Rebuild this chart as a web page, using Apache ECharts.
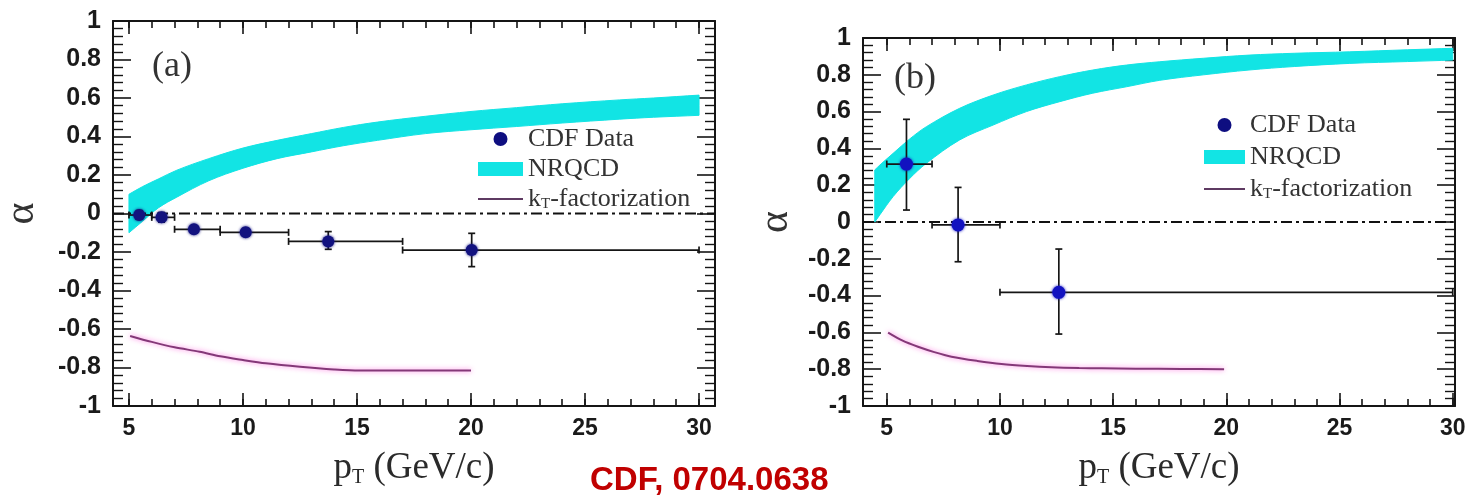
<!DOCTYPE html>
<html>
<head>
<meta charset="utf-8">
<script src="https://cdn.jsdelivr.net/npm/echarts@6/dist/echarts.min.js"></script>
<style>
  html, body { margin: 0; padding: 0; background: #fff; }
  #chart { width: 1470px; height: 499px; }
</style>
</head>
<body>
<div id="chart"></div>
<script>
// ---- panel (a) ----
const ptA = [5.45, 6.43, 7.85, 10.12, 13.74, 20.03];
const alphaA = [-0.008, -0.02, -0.082, -0.098, -0.145, -0.19];
const ptLoA = [5, 6, 7, 9, 12, 17];
const ptHiA = [6, 7, 9, 12, 17, 30];
const alphaLoA = [-0.03, -0.045, -0.1, -0.118, -0.186, -0.276];
const alphaHiA = [0.015, 0.005, -0.064, -0.078, -0.094, -0.103];

const bandPtA = [5.0, 5.6, 6.3, 7.1, 8.5, 10.0, 11.5, 13.0, 14.4, 15.9, 18.0, 20.0, 22.0, 24.0, 26.5, 28.0, 30.0];
const nrqcdLoA = [-0.10, -0.04, 0.03, 0.085, 0.17, 0.235, 0.285, 0.32, 0.352, 0.38, 0.415, 0.435, 0.452, 0.47, 0.49, 0.50, 0.51];
const nrqcdHiA = [0.10, 0.14, 0.18, 0.225, 0.285, 0.34, 0.38, 0.415, 0.447, 0.475, 0.505, 0.53, 0.55, 0.57, 0.59, 0.60, 0.615];

const ktPtA = [5.05, 6, 7, 8.1, 9, 10, 11, 12.5, 14, 15.1, 17, 20];
const ktA = [-0.636, -0.667, -0.695, -0.718, -0.742, -0.761, -0.778, -0.796, -0.81, -0.816, -0.816, -0.815];

// ---- panel (b) ----
const ptB = [5.87, 8.15, 12.6];
const alphaB = [0.315, -0.016, -0.382];
const ptLoB = [5, 7, 10];
const ptHiB = [7, 10, 30];
const alphaLoB = [0.065, -0.216, -0.609];
const alphaHiB = [0.558, 0.188, -0.147];

const bandPtB = [4.47, 4.7, 5.28, 6.0, 6.75, 8.22, 9.7, 11.17, 12.64, 14.1, 15.59, 17.06, 19, 21, 23, 25.45, 28, 30];
const nrqcdLoB = [0.0, 0.04, 0.138, 0.235, 0.319, 0.446, 0.527, 0.60, 0.654, 0.70, 0.735, 0.77, 0.80, 0.826, 0.845, 0.862, 0.872, 0.88];
const nrqcdHiB = [0.283, 0.31, 0.373, 0.45, 0.518, 0.618, 0.69, 0.745, 0.79, 0.826, 0.853, 0.871, 0.89, 0.907, 0.917, 0.925, 0.936, 0.944];

const ktPtB = [5.06, 5.7, 6.38, 7.1, 7.86, 9, 10.07, 11.2, 12.27, 13.5, 14.5, 16, 18, 19.9];
const ktB = [-0.601, -0.645, -0.678, -0.707, -0.732, -0.755, -0.772, -0.783, -0.79, -0.794, -0.795, -0.797, -0.799, -0.80];

// axis ticks
const majorX = [5, 10, 15, 20, 25, 30];
const minorX = [5, 6, 7, 8, 9, 10, 11, 12, 13, 14, 15, 16, 17, 18, 19, 20, 21, 22, 23, 24, 25, 26, 27, 28, 29, 30];

const INK = '#151515';
const CYAN = '#12e4e4';

function xAxes(gridIndex, min, max) {
  const common = {
    type: 'value', gridIndex, min, max,
    splitLine: { show: false },
  };
  const line = { show: true, onZero: false, lineStyle: { color: INK, width: 2 } };
  const tickStyle = { color: INK, width: 1.6 };
  return [
    Object.assign({}, common, {
      position: 'bottom',
      axisLine: line,
      axisTick: { inside: true, length: 13, customValues: majorX, lineStyle: tickStyle },
      axisLabel: {
        customValues: majorX, margin: 11, color: '#1a1a1a',
        fontFamily: 'Liberation Sans', fontWeight: 'bold', fontSize: 23,
      },
      name: '{p|p}{s|T}{p| (GeV/c)}',
      nameLocation: 'middle',
      nameGap: 42,
      nameTextStyle: {
        rich: {
          p: { fontFamily: 'Liberation Serif', fontSize: 37, lineHeight: 40, color: '#2a2a2a' },
          s: { fontFamily: 'Liberation Serif', fontSize: 20, lineHeight: 20, verticalAlign: 'bottom', color: '#2a2a2a' },
        },
      },
    }),
    Object.assign({}, common, {
      position: 'bottom',
      axisLine: { show: false, onZero: false },
      axisTick: { inside: true, length: 7, customValues: minorX, lineStyle: tickStyle },
      axisLabel: { show: false },
    }),
    Object.assign({}, common, {
      position: 'top',
      axisLine: line,
      axisTick: { inside: true, length: 13, customValues: majorX, lineStyle: tickStyle },
      axisLabel: { show: false },
    }),
    Object.assign({}, common, {
      position: 'top',
      axisLine: { show: false, onZero: false },
      axisTick: { inside: true, length: 7, customValues: minorX, lineStyle: tickStyle },
      axisLabel: { show: false },
    }),
  ];
}

function yAxes(gridIndex, nameGap) {
  const common = {
    type: 'value', gridIndex, min: -1, max: 1, interval: 0.2,
    axisLine: { show: true, onZero: false, lineStyle: { color: INK, width: 2 } },
    axisTick: { inside: true, length: 18, lineStyle: { color: INK, width: 1.6 } },
    minorTick: { show: true, splitNumber: 5, length: 10, lineStyle: { color: INK, width: 1.4 } },
    splitLine: { show: false },
    minorSplitLine: { show: false },
  };
  return [
    Object.assign({}, common, {
      position: 'left',
      axisLabel: {
        margin: 12, color: '#1a1a1a',
        fontFamily: 'Liberation Sans', fontWeight: 'bold', fontSize: 25,
      },
      name: 'α',
      nameLocation: 'middle',
      nameRotate: 90,
      nameGap,
      nameTextStyle: { fontFamily: 'Liberation Serif', fontSize: 42, color: '#333' },
    }),
    Object.assign({}, common, {
      position: 'right',
      axisLabel: { show: false },
    }),
  ];
}

// filled band between lo and hi; corner points doubled so smoothing keeps the ends straight
function bandRender(xs, lo, hi) {
  return function (params, api) {
    if (params.dataIndex !== 0) return null;
    const n = xs.length;
    const pts = [];
    pts.push(api.coord([xs[0], hi[0]]));
    xs.forEach((x, i) => pts.push(api.coord([x, hi[i]])));
    pts.push(api.coord([xs[n - 1], hi[n - 1]]));
    pts.push(api.coord([xs[n - 1], lo[n - 1]]));
    for (let i = n - 1; i >= 0; i--) pts.push(api.coord([xs[i], lo[i]]));
    pts.push(api.coord([xs[0], lo[0]]));
    return {
      type: 'polygon',
      shape: { points: pts, smooth: 0.35 },
      style: { fill: CYAN, stroke: CYAN, lineWidth: 1 },
    };
  };
}

// cross-shaped error bars with end caps
function errorRender(params, api) {
  const x = api.value(0), y = api.value(1);
  const c = api.coord([x, y]);
  const l = api.coord([api.value(2), y]);
  const r = api.coord([api.value(3), y]);
  const b = api.coord([x, api.value(4)]);
  const t = api.coord([x, api.value(5)]);
  const cap = 3.5;
  const style = { stroke: INK, lineWidth: 1.7 };
  const seg = (x1, y1, x2, y2) => ({ type: 'line', shape: { x1, y1, x2, y2 }, style });
  return {
    type: 'group',
    children: [
      seg(l[0], c[1], r[0], c[1]),
      seg(c[0], b[1], c[0], t[1]),
      seg(l[0], c[1] - cap, l[0], c[1] + cap),
      seg(r[0], c[1] - cap, r[0], c[1] + cap),
      seg(c[0] - cap, b[1], c[0] + cap, b[1]),
      seg(c[0] - cap, t[1], c[0] + cap, t[1]),
    ],
  };
}

function panelSeries(xi, yi, d) {
  return [
    {
      name: 'NRQCD', type: 'custom', xAxisIndex: xi, yAxisIndex: yi,
      itemStyle: { color: CYAN },
      renderItem: bandRender(d.bandPt, d.lo, d.hi),
      encode: { x: 0, y: [1, 2] },
      data: d.bandPt.map((x, i) => [x, d.lo[i], d.hi[i]]),
      z: 1,
    },
    {
      name: 'zero', type: 'line', xAxisIndex: xi, yAxisIndex: yi,
      symbol: 'none', silent: true,
      lineStyle: { color: '#111', width: 1.8, type: [11, 4, 3, 4] },
      data: [[d.xmin, 0], [d.xmax, 0]],
      z: 2,
    },
    {
      name: 'kT-factorization', type: 'line', xAxisIndex: xi, yAxisIndex: yi,
      symbol: 'none', smooth: 0.3,
      itemStyle: { color: '#6b3a6a' },
      lineStyle: { color: '#843878', width: 2, shadowColor: 'rgba(255,90,220,0.85)', shadowBlur: 5 },
      data: d.ktPt.map((x, i) => [x, d.kt[i]]),
      z: 3,
    },
    {
      name: 'errors', type: 'custom', xAxisIndex: xi, yAxisIndex: yi,
      renderItem: errorRender,
      data: d.pt.map((x, i) => [x, d.alpha[i], d.ptLo[i], d.ptHi[i], d.aLo[i], d.aHi[i]]),
      z: 4,
    },
    {
      name: 'CDF Data', type: 'scatter', xAxisIndex: xi, yAxisIndex: yi,
      symbolSize: d.dot,
      itemStyle: { color: d.dotColor, opacity: 1, shadowColor: d.dotColor, shadowBlur: 3 },
      data: d.pt.map((x, i) => [x, d.alpha[i]]),
      z: 5,
    },
  ];
}

function legendFor(left, top, itemWidth, itemGap) {
  return {
    orient: 'vertical', left, top, itemWidth, itemHeight: 14, itemGap,
    selectedMode: false,
    textStyle: {
      fontFamily: 'Liberation Serif', fontSize: 26, lineHeight: 26, color: '#333',
      rich: {
        a: { fontFamily: 'Liberation Serif', fontSize: 26, lineHeight: 26, color: '#333' },
        s: { fontFamily: 'Liberation Serif', fontSize: 15, lineHeight: 12, verticalAlign: 'bottom', color: '#333' },
      },
    },
    formatter: (name) => (name === 'kT-factorization' ? '{a|k}{s|T}{a|-factorization}' : name),
    data: [
      { name: 'CDF Data', icon: 'circle', itemStyle: { color: '#0e0e80', opacity: 1, shadowBlur: 0 } },
      { name: 'NRQCD', icon: 'rect', itemStyle: { color: CYAN, opacity: 1 } },
      { name: 'kT-factorization', icon: 'path://M0,0L45,0L45,2L0,2Z', itemStyle: { color: '#5e3a62', borderWidth: 0 } },
    ],
  };
}

const chart = echarts.init(document.getElementById('chart'));
const option = {
  animation: false,
  backgroundColor: '#fff',
  grid: [
    { left: 113, top: 21, width: 602, height: 385, outerBoundsMode: 'none' },
    { left: 863, top: 38, width: 592, height: 368, outerBoundsMode: 'none' },
  ],
  xAxis: [].concat(xAxes(0, 4.3, 30.7), xAxes(1, 3.95, 30.1)),
  yAxis: [].concat(yAxes(0, 70), yAxes(1, 66)),
  legend: [legendFor(473, 121, 45, 4), legendFor(1199, 107, 41, 6)],
  graphic: [
    { type: 'text', left: 152, top: 49, style: { text: '(a)', font: '36px "Liberation Serif"', fill: '#333' } },
    { type: 'text', left: 894, top: 61, style: { text: '(b)', font: '36px "Liberation Serif"', fill: '#333' } },
    { type: 'text', left: 590, top: 464, style: { text: 'CDF, 0704.0638', font: 'bold 33px "Liberation Sans"', fill: '#c00000' } },
  ],
  series: [].concat(
    panelSeries(0, 0, {
      xmin: 4.3, xmax: 30.7,
      bandPt: bandPtA, lo: nrqcdLoA, hi: nrqcdHiA,
      ktPt: ktPtA, kt: ktA,
      pt: ptA, alpha: alphaA, ptLo: ptLoA, ptHi: ptHiA, aLo: alphaLoA, aHi: alphaHiA,
      dot: 12, dotColor: '#12127f',
    }),
    panelSeries(4, 2, {
      xmin: 3.95, xmax: 30.1,
      bandPt: bandPtB, lo: nrqcdLoB, hi: nrqcdHiB,
      ktPt: ktPtB, kt: ktB,
      pt: ptB, alpha: alphaB, ptLo: ptLoB, ptHi: ptHiB, aLo: alphaLoB, aHi: alphaHiB,
      dot: 13, dotColor: '#1212c0',
    }),
  ),
};
chart.setOption(option);
</script>
</body>
</html>
